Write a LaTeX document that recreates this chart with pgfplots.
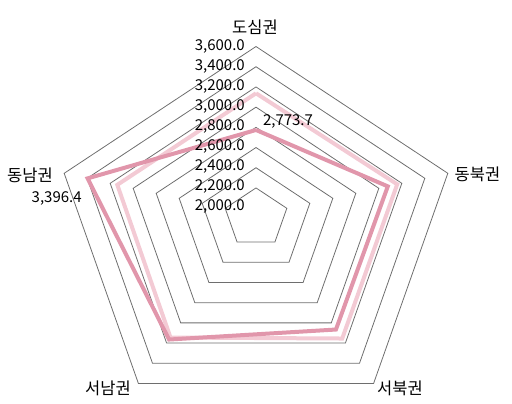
\documentclass[border=0pt]{standalone}
\usepackage{fontspec}
\setmainfont{Noto Sans CJK KR}
\usepackage{pgfplots}
\pgfplotsset{compat=1.18}
\usepackage{pgfplotstable}

\definecolor{ringgray}{HTML}{6E6E6E}
\definecolor{seoulpink}{HTML}{F3CAD4}
\definecolor{regionpink}{HTML}{E196AB}

% spokes: dx dy = px per 200 units from the centre (value 1932 sits at the centre)
% order: 도심권, 동북권, 서북권, 서남권, 동남권, back to 도심권
\pgfplotstableread{
dx     dy     region  seoul
0      20.2   2773.7  3137
23.0   5.0    3078    3160
14.1   -20.2  3066    3155
-14.1  -20.2  3165    3145
-23.0  5.0    3396.4  3138
0      20.2   2773.7  3137
}\radar

\newcommand{\cx}{256}
\newcommand{\cy}{189}
\newcommand{\vz}{1932}

\begin{document}
\begin{tikzpicture}
\begin{axis}[
    x=1pt, y=1pt,
    xmin=0, xmax=512, ymin=0, ymax=404,
    anchor=origin, at={(0,0)},
    hide axis, clip=false,
    font=\fontsize{15}{17}\selectfont,
]
    % grid rings
    \pgfplotsinvokeforeach{2200,2400,...,3600}{
        \addplot[ringgray, line width=0.8pt, no markers] table[
            x expr={\cx+(#1-\vz)/200*\thisrow{dx}},
            y expr={\cy+(#1-\vz)/200*\thisrow{dy}}
        ] {\radar};
    }

    \addplot[seoulpink, line width=4pt, no markers] table[
        x expr={\cx+(\thisrow{seoul}-\vz)/200*\thisrow{dx}},
        y expr={\cy+(\thisrow{seoul}-\vz)/200*\thisrow{dy}}
    ] {\radar};

    \addplot[regionpink, line width=4pt, no markers] table[
        x expr={\cx+(\thisrow{region}-\vz)/200*\thisrow{dx}},
        y expr={\cy+(\thisrow{region}-\vz)/200*\thisrow{dy}}
    ] {\radar};

    % value axis labels
    \pgfplotsinvokeforeach{2000,2200,...,3600}{
        \node[anchor=east, inner sep=0pt] at (axis cs:245,{357.3-(3600-#1)/10})
            {\pgfmathprintnumber[fixed, fixed zerofill, precision=1, 1000 sep={,}, assume math mode=true]{#1}};
    }

    % category labels
    \node[font=\fontsize{16.5}{18}\selectfont] at (axis cs:255,377) {도심권};
    \node[font=\fontsize{16.5}{18}\selectfont] at (axis cs:477.5,230) {동북권};
    \node[font=\fontsize{16.5}{18}\selectfont] at (axis cs:400,16) {서북권};
    \node[font=\fontsize{16.5}{18}\selectfont] at (axis cs:108,16) {서남권};
    \node[font=\fontsize{16.5}{18}\selectfont] at (axis cs:30,228.5) {동남권};

    % data labels
    \node at (axis cs:288,282.5) {2,773.7};
    \node at (axis cs:56.7,206) {3,396.4};
\end{axis}
\pgfresetboundingbox
\path (0,0) rectangle (512pt,404pt);
\end{tikzpicture}
\end{document}
